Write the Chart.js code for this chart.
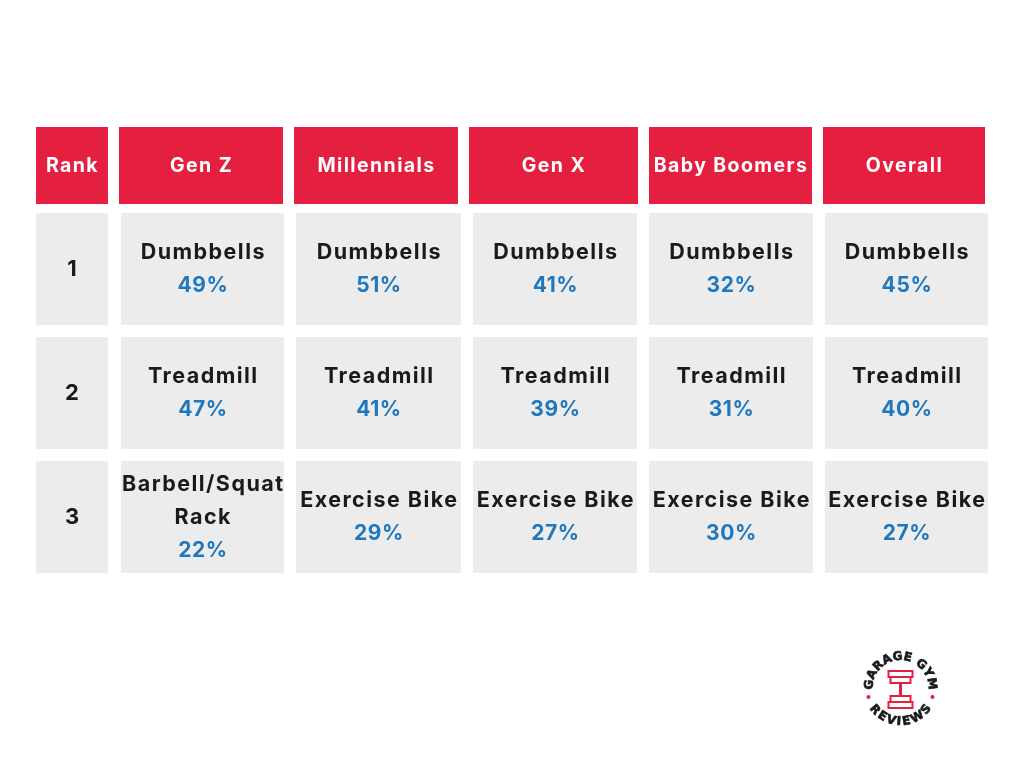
<!DOCTYPE html>
<html>
<head>
<meta charset="utf-8">
<title>Top home gym equipment by generation</title>
<script src="https://cdn.jsdelivr.net/npm/chart.js@4"></script>
<style>
  html, body { margin: 0; padding: 0; background: #fff; }
  canvas { display: block; }
</style>
</head>
<body>
<canvas id="tabela" width="1024" height="768"></canvas>
<script>
// Table content
const headers = ['Rank', 'Gen Z', 'Millennials', 'Gen X', 'Baby Boomers', 'Overall'];
const ranks = ['1', '2', '3'];
const genZItems = ['Dumbbells', 'Treadmill', 'Barbell/Squat\nRack'];
const otherItems = ['Dumbbells', 'Treadmill', 'Exercise Bike'];
const genZ = [49, 47, 22];
const millennials = [51, 41, 29];
const genX = [41, 39, 27];
const babyBoomers = [32, 31, 30];
const overall = [45, 40, 27];

// Layout, in the units of the hidden x/y scales
const headerCols = [[36, 108], [119, 283], [294, 458], [469, 638], [649, 812], [823, 985]];
const bodyCols = [[36, 108], [121, 284], [296, 461], [473, 637], [649, 813], [825, 988]];
const headerCenter = 165.5;
const rowCenters = [269, 393, 517];

const columns = [
  { items: genZItems, values: genZ },
  { items: otherItems, values: millennials },
  { items: otherItems, values: genX },
  { items: otherItems, values: babyBoomers },
  { items: otherItems, values: overall }
];

const FONT = 'Inter, "Noto Sans", sans-serif';
const LINE = 33;

function drawText(ctx, text, x, y, font, color, spacing) {
  ctx.font = font;
  ctx.fillStyle = color;
  ctx.letterSpacing = spacing + 'px';
  ctx.textAlign = 'center';
  ctx.textBaseline = 'middle';
  ctx.fillText(text, x, y);
  ctx.letterSpacing = '0px';
}

// Headers, ranks, item names and percentages, placed from the bars
const textoTabela = {
  id: 'textoTabela',
  afterDatasetsDraw(chart) {
    const { ctx } = chart;
    const centro = bar => (bar.x + bar.base) / 2;

    chart.getDatasetMeta(0).data.forEach((bar, i) => {
      drawText(ctx, headers[i], centro(bar) + 0.5, bar.y + 0.5, '700 19.5px ' + FONT, '#ffffff', 1.4);
    });

    chart.getDatasetMeta(1).data.forEach((bar, i) => {
      const row = Math.floor(i / 6);
      const col = i % 6;
      const x = centro(bar);
      if (col === 0) {
        drawText(ctx, ranks[row], x, bar.y + 0.5, '700 22px ' + FONT, '#1a1a1a', 0);
        return;
      }
      const column = columns[col - 1];
      const lines = column.items[row].split('\n');
      let y = bar.y - (lines.length * LINE) / 2 + 0.5;
      lines.forEach(line => {
        drawText(ctx, line, x + 0.8, y, '700 21.5px ' + FONT, '#1a1a1a', 1.45);
        y += LINE;
      });
      drawText(ctx, column.values[row] + '%', x + 0.5, y, '700 21px ' + FONT, '#1f77bd', 0.6);
    });
  }
};

// Round logo at the bottom right: each letter takes an angle from its own width
function textoEmArco(ctx, text, cx, cy, radius, middleAngle, spacing, inward) {
  ctx.font = '900 12px "DejaVu Sans", sans-serif';
  ctx.fillStyle = '#1a1a1a';
  ctx.strokeStyle = '#1a1a1a';
  ctx.lineWidth = 0.7;
  ctx.textAlign = 'center';
  ctx.textBaseline = 'alphabetic';
  const widths = [...text].map(ch => ctx.measureText(ch).width + spacing);
  const total = widths.reduce((a, b) => a + b, 0);
  const dir = inward ? 1 : -1;
  let gone = 0;
  [...text].forEach((ch, i) => {
    const a = middleAngle + dir * (gone + widths[i] / 2 - total / 2) / radius;
    gone += widths[i];
    ctx.save();
    ctx.translate(cx + radius * Math.cos(a), cy + radius * Math.sin(a));
    ctx.rotate(inward ? a + Math.PI / 2 : a - Math.PI / 2);
    ctx.fillText(ch, 0, 0);
    ctx.strokeText(ch, 0, 0);
    ctx.restore();
  });
}

const logo = {
  id: 'logo',
  afterDraw(chart) {
    const { ctx } = chart;
    const cx = 900.5, cy = 688;
    ctx.save();
    textoEmArco(ctx, 'GARAGE GYM', cx, cy, 28, -Math.PI / 2, 0.2, true);
    textoEmArco(ctx, 'REVIEWS', cx, cy, 37, Math.PI / 2, 2, false);

    ctx.fillStyle = '#e51f3f';
    [[cx - 32, cy + 9], [cx + 32, cy + 9]].forEach(([x, y]) => {
      ctx.beginPath();
      ctx.arc(x, y, 2, 0, Math.PI * 2);
      ctx.fill();
    });

    ctx.strokeStyle = '#e51f3f';
    ctx.lineWidth = 2;
    ctx.strokeRect(cx - 12, cy - 17, 24, 6);
    ctx.strokeRect(cx - 10, cy - 11, 20, 6);
    ctx.strokeRect(cx - 10, cy + 8, 20, 6);
    ctx.strokeRect(cx - 12, cy + 14, 24, 6);
    ctx.lineWidth = 3;
    ctx.beginPath();
    ctx.moveTo(cx, cy - 5);
    ctx.lineTo(cx, cy + 8);
    ctx.stroke();
    ctx.restore();
  }
};

const headerData = headerCols.map(col => ({ x: col, y: headerCenter }));
const bodyData = rowCenters.flatMap(y => bodyCols.map(col => ({ x: col, y })));

new Chart(document.getElementById('tabela').getContext('2d'), {
  type: 'bar',
  data: {
    datasets: [
      { data: headerData, backgroundColor: '#e51f3f', barThickness: 77, grouped: false, inflateAmount: 0 },
      { data: bodyData, backgroundColor: '#ececec', barThickness: 112, grouped: false, inflateAmount: 0 }
    ]
  },
  options: {
    indexAxis: 'y',
    responsive: false,
    animation: false,
    devicePixelRatio: 1,
    layout: { padding: 0 },
    plugins: { legend: { display: false }, tooltip: { enabled: false } },
    scales: {
      x: { type: 'linear', min: 0, max: 1024, display: false },
      y: { type: 'linear', min: 0, max: 768, reverse: true, offset: false, display: false }
    }
  },
  plugins: [textoTabela, logo]
});
</script>
</body>
</html>
